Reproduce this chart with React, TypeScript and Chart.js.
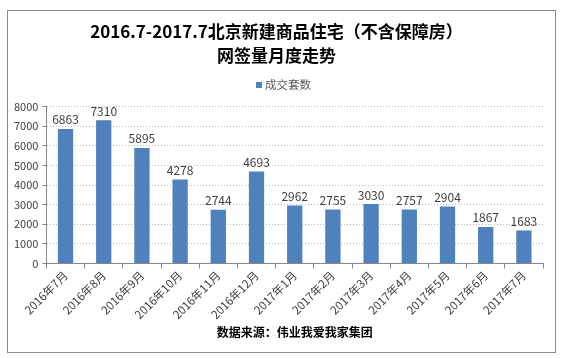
import React, { useEffect, useRef } from "react";
import { Chart, registerables } from "chart.js";

Chart.register(...registerables);

const categories = [
  "2016年7月", "2016年8月", "2016年9月", "2016年10月", "2016年11月", "2016年12月",
  "2017年1月", "2017年2月", "2017年3月", "2017年4月", "2017年5月", "2017年6月", "2017年7月",
];
const seriesName = "成交套数";
const values = [6863, 7310, 5895, 4278, 2744, 4693, 2962, 2755, 3030, 2757, 2904, 1867, 1683];
const titleLines = ["2016.7-2017.7北京新建商品住宅（不含保障房）", "网签量月度走势"];
const sourceText = "数据来源：伟业我爱我家集团";

const FONT = "'Noto Sans CJK SC', 'Noto Sans', sans-serif";
const BAR_COLOR = "#4F81BD";

const labelPlugin = {
  id: "barLabels",
  afterDatasetsDraw(chart: any) {
    const ctx = chart.ctx;
    const meta = chart.getDatasetMeta(0);
    ctx.save();
    ctx.font = `12px ${FONT}`;
    ctx.fillStyle = "#404040";
    ctx.textAlign = "center";
    ctx.textBaseline = "bottom";
    meta.data.forEach((bar: any, i: number) => {
      ctx.fillText(String(values[i]), bar.x, bar.y - 3);
    });
    ctx.restore();
  },
};

const legendAndBorderPlugin = {
  id: "legendAndBorder",
  afterDraw(chart: any) {
    const ctx = chart.ctx;
    ctx.save();
    // legend
    ctx.font = `11.5px ${FONT}`;
    const tw = ctx.measureText(seriesName).width;
    const total = 6 + 3 + tw;
    const cx = 283;
    const x0 = Math.round(cx - total / 2);
    ctx.fillStyle = BAR_COLOR;
    ctx.fillRect(x0, 82, 6, 6);
    ctx.fillStyle = "#595959";
    ctx.textAlign = "left";
    ctx.textBaseline = "middle";
    ctx.fillText(seriesName, x0 + 9, 85);
    // outer border
    ctx.strokeStyle = "#8c8c8c";
    ctx.lineWidth = 1;
    ctx.strokeRect(7.5, 10.5, 548, 342);
    ctx.restore();
  },
};

export default function App() {
  const ref = useRef<HTMLCanvasElement>(null);
  useEffect(() => {
    const chart = new Chart(ref.current!, {
      type: "bar",
      data: {
        labels: categories,
        datasets: [
          {
            label: seriesName,
            data: values,
            backgroundColor: BAR_COLOR,
            borderWidth: 0,
            categoryPercentage: 1,
            barPercentage: 0.4,
          },
        ],
      },
      options: {
        animation: false,
        responsive: false,
        maintainAspectRatio: false,
        layout: { padding: { left: 10, right: 19, top: 20, bottom: 10 } },
        plugins: {
          title: {
            display: true,
            text: titleLines,
            color: "#000",
            font: { family: FONT, size: 17, weight: "bold", lineHeight: 1.4 },
            padding: { top: 0, bottom: 39 },
          },
          legend: { display: false },
          tooltip: { enabled: false },
        },
        scales: {
          y: {
            min: 0,
            max: 8000,
            ticks: {
              stepSize: 1000,
              color: "#404040",
              font: { family: FONT, size: 11 },
              padding: 4,
              callback: (v: any) => String(v),
            },
            grid: {
              color: "#b8b8b8",
              tickColor: "#888",
              tickLength: 4,
              tickBorderDash: [],
            } as any,
            border: { display: true, color: "#888", dash: [1, 2] } as any,
          },
          x: {
            offset: true,
            grid: {
              offset: true,
              drawOnChartArea: false,
              drawTicks: true,
              tickLength: 5,
              tickColor: "#888",
            },
            border: { display: true, color: "#888" },
            ticks: {
              maxRotation: 45,
              minRotation: 45,
              color: "#404040",
              font: { family: FONT, size: 11.5 },
              padding: 0,
            },
            title: {
              display: true,
              text: sourceText,
              color: "#000",
              font: { family: FONT, size: 12, weight: "bold" },
              padding: { top: 4, bottom: 8 },
            },
          },
        },
      },
      plugins: [labelPlugin, legendAndBorderPlugin],
    });
    return () => chart.destroy();
  }, []);
  return (
    <div style={{ position: "fixed", left: 0, top: 0, width: 562, height: 358, background: "#fff" }}>
      <canvas ref={ref} width={562} height={358} style={{ width: 562, height: 358 }} />
    </div>
  );
}
